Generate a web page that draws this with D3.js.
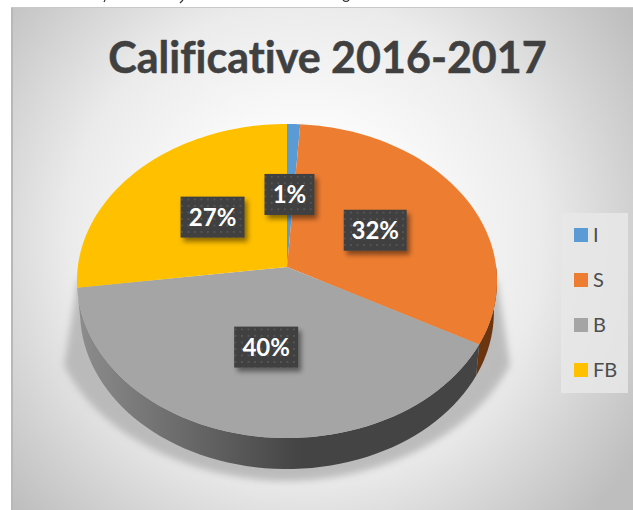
<!DOCTYPE html>
<html lang="en">
<head>
<meta charset="UTF-8">
<title>Calificative 2016-2017</title>
<script src="https://d3js.org/d3.v7.min.js"></script>
<style>
  html, body { margin: 0; padding: 0; background: #fff; overflow: hidden; }
  text { font-family: Lato, "Open Sans", sans-serif; font-variant-ligatures: none; }
</style>
</head>
<body>
<svg id="chart" width="633" height="510"></svg>
<script>
// Data
const categories = ["I", "S", "B", "FB"];
const shares = [1.1, 31.8, 40.0, 27.1];
const shareLabels = ["1%", "32%", "40%", "27%"];
const colors = ["#5b9bd5", "#ed7d31", "#a5a5a5", "#ffc000"];
const wallColors = ["#2f5f8a", "#6b3510", "#4a4a4a", "#8a6800"];
const titleText = "Calificative 2016-2017";

const svg = d3.select("#chart");
const defs = svg.append("defs");

// background
const bg = defs.append("radialGradient").attr("id", "bg")
  .attr("gradientUnits", "userSpaceOnUse")
  .attr("cx", 305).attr("cy", 240).attr("r", 395);
bg.append("stop").attr("offset", "0.2").attr("stop-color", "#ffffff");
bg.append("stop").attr("offset", "0.6").attr("stop-color", "#ebebeb");
bg.append("stop").attr("offset", "1").attr("stop-color", "#bebebe");

// side wall, dark to the bottom right
const wall = defs.append("linearGradient").attr("id", "wall")
  .attr("gradientUnits", "userSpaceOnUse")
  .attr("x1", 80).attr("x2", 300).attr("y1", 0).attr("y2", 0);
wall.append("stop").attr("offset", "0").attr("stop-color", "#8c8c8c");
wall.append("stop").attr("offset", "1").attr("stop-color", "#444444");

defs.append("filter").attr("id", "blur")
  .attr("x", "-20%").attr("y", "-20%").attr("width", "140%").attr("height", "140%")
  .append("feGaussianBlur").attr("stdDeviation", 3.5);

const boxShadow = defs.append("filter").attr("id", "boxShadow")
  .attr("x", "-30%").attr("y", "-30%").attr("width", "170%").attr("height", "170%");
boxShadow.append("feDropShadow")
  .attr("dx", 3).attr("dy", 4).attr("stdDeviation", 2.5)
  .attr("flood-color", "#000").attr("flood-opacity", 0.45);

const dots = defs.append("pattern").attr("id", "dots")
  .attr("patternUnits", "userSpaceOnUse").attr("width", 6.5).attr("height", 6.5);
dots.append("rect").attr("width", 6.5).attr("height", 6.5).attr("fill", "#404040");
dots.append("rect").attr("x", 1).attr("y", 1).attr("width", 1.6).attr("height", 1.6).attr("fill", "#5c5c5c");

svg.append("rect").attr("x", 11).attr("y", 7).attr("width", 640).attr("height", 520)
  .attr("fill", "url(#bg)");
svg.append("path").attr("d", "M12,7V510").attr("stroke", "#b8b8b8").attr("stroke-width", 2).attr("fill", "none");
svg.append("path").attr("d", "M11,7.5H633").attr("stroke", "#c8c8c8").attr("stroke-width", 1).attr("fill", "none");

// unreadable ink left over from the cropped line above the chart
svg.append("path").attr("d", "M105,0L104,2M183,0L180,3M343,0Q346,3 349,0")
  .attr("stroke", "#333").attr("stroke-width", 1.2).attr("fill", "none");

// tilted disc: circle seen in perspective
const cx = 287, cy = 267, rx = 209.2, ry = 155.8, persp = 0.0892, depth = 31;
function project(angle, r, drop) {
  const u = Math.sin(angle) * r, v = Math.cos(angle) * r;
  const w = 1 + persp * v;
  return [cx + rx * u / w * (drop ? 0.985 : 1), cy - ry * v / w + (drop || 0)];
}
const line = d3.line();
function sliceRim(a0, a1, drop) {
  return d3.range(0, 61).map(i => project(a0 + (a1 - a0) * i / 60, 1, drop));
}

const arcs = d3.pie().sort(null).value(d => d)(shares);

// floor shadow
svg.append("path")
  .attr("d", "M78,280L64,365C100,440 200,481 287,481C375,481 470,440 510,365L497,280Z")
  .attr("fill", "#b0b0b0").attr("opacity", 0.8).attr("filter", "url(#blur)");

// side wall: only S and B show, the rest of the rim faces away
const frontStart = Math.PI / 2, frontEnd = arcs[2].endAngle;
arcs.forEach((d, i) => {
  const a0 = Math.max(d.startAngle, frontStart), a1 = Math.min(d.endAngle, frontEnd);
  if (a1 <= a0) return;
  const outline = sliceRim(a0, a1, 0).concat(sliceRim(a0, a1, depth).reverse());
  svg.append("path").attr("d", line(outline) + "Z")
    .attr("fill", i === 2 ? "url(#wall)" : wallColors[i]);
});

// top face
arcs.forEach((d, i) => {
  const outline = [project(0, 0, 0)].concat(sliceRim(d.startAngle, d.endAngle, 0));
  svg.append("path").attr("d", line(outline) + "Z").attr("fill", colors[i]);
});

// data labels
const boxW = [50, 63, 64, 64];
const labelDx = [-1, -1.5, -1, 2];
const labelDy = [2, 0, 0, 0];
arcs.forEach((d, i) => {
  const [x, y] = project((d.startAngle + d.endAngle) / 2, 0.5, 0);
  const g = svg.append("g").attr("transform", `translate(${x + labelDx[i]},${y + labelDy[i]})`);
  g.append("rect").attr("x", -boxW[i] / 2).attr("y", -20.5).attr("width", boxW[i]).attr("height", 41)
    .attr("fill", "url(#dots)").attr("filter", "url(#boxShadow)");
  g.append("text").attr("text-anchor", "middle").attr("y", 8.5)
    .attr("font-size", 24).attr("font-weight", 700).attr("fill", "#fff")
    .text(shareLabels[i]);
});

// title
svg.append("text").attr("x", 327.5).attr("y", 73).attr("text-anchor", "middle")
  .attr("font-size", 43).attr("font-weight", 700).attr("fill", "#404040")
  .attr("stroke", "#404040").attr("stroke-width", 0.5)
  .text(titleText);

// legend
svg.append("rect").attr("x", 561).attr("y", 213).attr("width", 67).attr("height", 180)
  .attr("fill", "#e8e8e8").attr("opacity", 0.85);
const legendY = d3.scalePoint().domain(categories).range([235, 370]);
categories.forEach((c, i) => {
  svg.append("rect").attr("x", 574).attr("y", legendY(c) - 7).attr("width", 14).attr("height", 14)
    .attr("fill", colors[i]);
  svg.append("text").attr("x", 593).attr("y", legendY(c) + 7)
    .attr("font-size", 20).attr("fill", "#4d4d4d").text(c);
});
</script>
</body>
</html>
